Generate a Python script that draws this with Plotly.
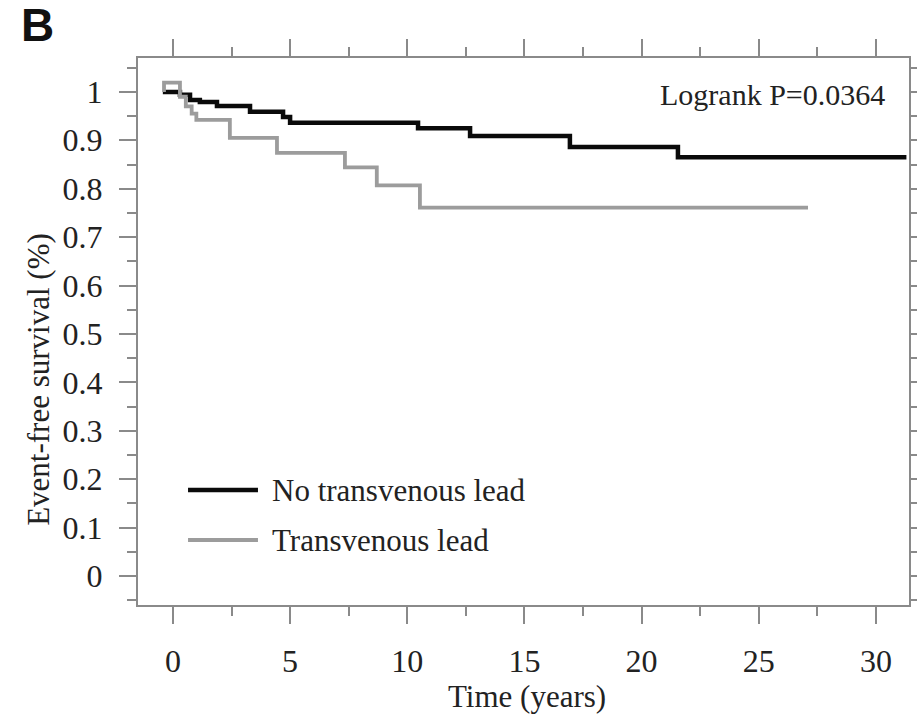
import plotly.graph_objects as go

# Kaplan-Meier step curves (time in years, event-free survival fraction)
no_lead_time = [-0.43, 0.3, 0.73, 1.15, 1.88, 3.29, 4.7, 5.0, 10.46, 12.68, 16.94, 21.55, 31.3]
no_lead_surv = [1.0, 0.994, 0.983, 0.979, 0.971, 0.959, 0.948, 0.936, 0.925, 0.909, 0.886, 0.865, 0.865]

lead_time = [-0.38, -0.38, 0.3, 0.55, 0.8, 1.0, 2.43, 4.44, 7.34, 8.7, 10.54, 27.1]
lead_surv = [1.0, 1.019, 0.99, 0.97, 0.955, 0.942, 0.905, 0.874, 0.844, 0.807, 0.761, 0.761]

x_ticks = [0, 5, 10, 15, 20, 25, 30]
y_ticks = [0, 0.1, 0.2, 0.3, 0.4, 0.5, 0.6, 0.7, 0.8, 0.9, 1.0]
y_tick_text = ["0", "0.1", "0.2", "0.3", "0.4", "0.5", "0.6", "0.7", "0.8", "0.9", "1"]

series_names = ["No transvenous lead", "Transvenous lead"]
logrank_text = "Logrank P=0.0364"

SERIF = "Liberation Serif, Times New Roman, serif"
TEXT = "#222222"
AXIS = "#8a8a8a"
BLACK = "#0a0a0a"
GREY = "#9c9c9c"

fig = go.Figure()
fig.add_trace(go.Scatter(x=no_lead_time, y=no_lead_surv, mode="lines", line_shape="hv",
                         line=dict(color=BLACK, width=4.5), name=series_names[0],
                         showlegend=False))
fig.add_trace(go.Scatter(x=lead_time, y=lead_surv, mode="lines", line_shape="hv",
                         line=dict(color=GREY, width=3.8), name=series_names[1],
                         showlegend=False))

axis_common = dict(showline=True, linecolor=AXIS, linewidth=2, mirror="ticks",
                   ticks="outside", tickcolor=AXIS, tickwidth=2, ticklen=17,
                   showgrid=False, zeroline=False, automargin=False,
                   tickfont=dict(family=SERIF, size=32, color=TEXT))

fig.update_xaxes(range=[-1.49, 31.41], tickvals=x_ticks, ticklabelstandoff=10,
                 minor=dict(dtick=2.5, tick0=0, ticks="outside", ticklen=9,
                            tickcolor=AXIS, tickwidth=2, showgrid=False),
                 **axis_common)
fig.update_yaxes(range=[-0.06, 1.07], tickvals=y_ticks, ticktext=y_tick_text,
                 ticklabelstandoff=10,
                 minor=dict(dtick=0.05, tick0=0, ticks="outside", ticklen=9,
                            tickcolor=AXIS, tickwidth=2, showgrid=False),
                 **axis_common)

# Legend drawn as line samples with labels inside the plot area
legend_rows = [(0.2102, BLACK, 4.5), (0.1188, GREY, 3.8)]
shapes = []
annotations = []
for name, (ypos, color, width) in zip(series_names, legend_rows):
    shapes.append(dict(type="line", xref="paper", yref="paper", x0=0.0649, x1=0.1556,
                       y0=ypos, y1=ypos, line=dict(color=color, width=width)))
    annotations.append(dict(text=name, xref="paper", yref="paper", x=0.1712, y=ypos,
                            xanchor="left", yanchor="middle", showarrow=False,
                            font=dict(family=SERIF, size=31, color=TEXT)))

annotations += [
    dict(text=logrank_text, xref="paper", yref="paper", x=0.9715, y=0.933,
         xanchor="right", yanchor="middle", showarrow=False,
         font=dict(family=SERIF, size=30, color=TEXT)),
    dict(text="Time (years)", xref="paper", yref="paper", x=0.505, y=-0.168,
         xanchor="center", yanchor="middle", showarrow=False,
         font=dict(family=SERIF, size=31, color=TEXT)),
    dict(text="Event-free survival (%)", xref="paper", yref="paper", x=-0.13, y=0.413,
         xanchor="center", yanchor="middle", textangle=-90, showarrow=False,
         font=dict(family=SERIF, size=31, color=TEXT)),
    dict(text="<b>B</b>", xref="paper", yref="paper", x=-0.154, y=1.06,
         xanchor="left", yanchor="middle", showarrow=False, height=44, valign="middle",
         font=dict(family="Liberation Sans, Arial, sans-serif", size=46, color="#111111")),
]

fig.update_layout(width=917, height=715, margin=dict(l=138, r=8, t=58, b=110),
                  paper_bgcolor="white", plot_bgcolor="white",
                  shapes=shapes, annotations=annotations, showlegend=False)

fig.write_html("out.html")
